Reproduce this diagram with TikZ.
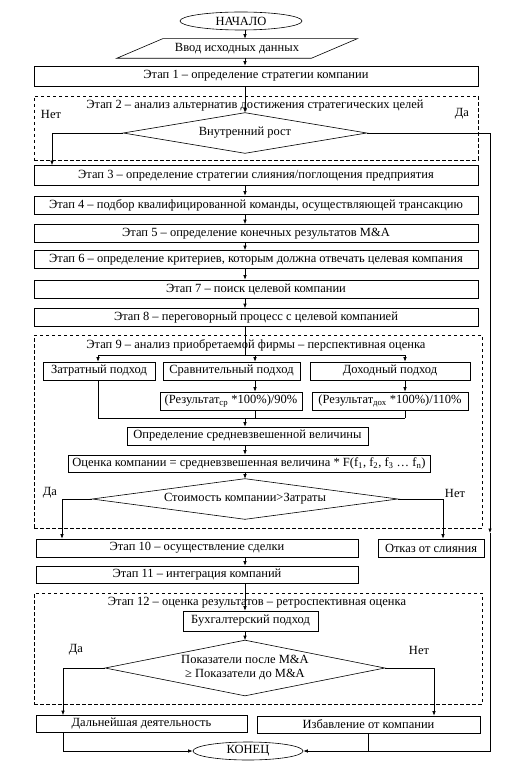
\documentclass[tikz,border=0pt]{standalone}
\usepackage{fontspec}
\setmainfont{Liberation Serif}
\usetikzlibrary{shapes.geometric,arrows.meta}
\begin{document}
\begin{tikzpicture}[x=1pt,y=-1pt,
  every node/.style={font=\fontsize{12.5}{14}\selectfont},
  box/.style={draw, rectangle, inner sep=1pt, minimum height=18pt},
  frame/.style={draw, dash pattern=on 3.5pt off 2.5pt, inner sep=0pt},
  dia/.style={rectangle, inner sep=0pt},
  term/.style={draw, ellipse, inner sep=0pt},
  lbl/.style={inner sep=0pt},
  arr/.style={-{Latex[length=4.5pt,width=3.5pt]}},
  line width=0.6pt]
\useasboundingbox (0,0) rectangle (529,775);
\coordinate (sp) at (245,0);

% top
\node[term, minimum width=122pt, minimum height=18pt] (start) at (241,21) {НАЧАЛО};
\node[inner sep=0pt, minimum width=194pt, minimum height=19pt] (input) at (237,48.5) {Ввод исходных данных};
\draw ([xshift=-23pt]input.south west) -- ([xshift=-23pt]input.south east)
   -- ([xshift=23pt]input.north east) -- ([xshift=23pt]input.north west) -- cycle;
\node[box, minimum width=444pt, minimum height=20pt] (s1) at (256,76) {Этап 1 – определение стратегии компании};

% stage 2
\node[frame, minimum width=444pt, minimum height=64pt] (fr2) at (256,128) {};
\node[lbl] (t2) at (255,106) {Этап 2 – анализ альтернатив достижения стратегических целей};
\node[dia, minimum width=243pt, minimum height=40pt] (d1) at (245,133) {Внутренний рост};
\draw (d1.north) -- (d1.east) -- (d1.south) -- (d1.west) -- cycle;
\node[lbl] (no1) at (51,114) {Нет};
\node[lbl] (yes1) at (462,114) {Да};

% stages 3-8
\node[box, minimum width=444pt, minimum height=20pt] (s3) at (256,175.5) {Этап 3 – определение стратегии слияния/поглощения предприятия};
\node[box, minimum width=444pt] (s4) at (256,205) {Этап 4 – подбор квалифицированной команды, осуществляющей трансакцию};
\node[box, minimum width=444pt] (s5) at (256,233.5) {Этап 5 – определение конечных результатов M\&A};
\node[box, minimum width=444pt] (s6) at (256,259.5) {Этап 6 – определение критериев, которым должна отвечать целевая компания};
\node[box, minimum width=444pt] (s7) at (256,289) {Этап 7 – поиск целевой компании};
\node[box, minimum width=444pt] (s8) at (256,317.5) {Этап 8 – переговорный процесс с целевой компанией};

% stage 9
\node[frame, minimum width=448pt, minimum height=193pt] (fr9) at (258,431.5) {};
\node[lbl] (t9) at (256,345) {Этап 9 – анализ приобретаемой фирмы – перспективная оценка};
\node[box, minimum width=112pt] (zat) at (99,371) {Затратный подход};
\node[box, minimum width=137pt] (srv) at (231.5,371) {Сравнительный подход};
\node[box, minimum width=160pt] (doh) at (390,371) {Доходный подход};
\node[box, minimum width=142pt] (fm1) at (231,401) {(Результат\textsubscript{ср} *100\%)/90\%};
\node[box, minimum width=156pt] (fm2) at (390,401) {(Результат\textsubscript{дох} *100\%)/110\%};
\node[box, minimum width=241pt] (avg) at (247.5,436) {Определение средневзвешенной величины};
\node[box, minimum width=362pt, minimum height=17pt] (est) at (249,463.5) {Оценка компании = средневзвешенная величина * F(f\textsubscript{1}, f\textsubscript{2}, f\textsubscript{3} … f\textsubscript{n})};
\node[dia, minimum width=305pt, minimum height=40pt] (d2) at (245,499) {Стоимость компании>Затраты};
\draw (d2.north) -- (d2.east) -- (d2.south) -- (d2.west) -- cycle;
\node[lbl] (yes2) at (50,493) {Да};
\node[lbl] (no2) at (455,493) {Нет};

% stages 10-11
\node[box, minimum width=322pt] (s10) at (197,548) {Этап 10 – осуществление сделки};
\node[box, minimum width=106pt] (ref) at (431,548) {Отказ от слияния};
\node[box, minimum width=322pt, minimum height=17pt] (s11) at (197,574.5) {Этап 11 – интеграция компаний};

% stage 12
\node[frame, minimum width=448pt, minimum height=111pt] (fr12) at (258,648.5) {};
\node[lbl] (t12) at (257,603) {Этап 12 – оценка результатов – ретроспективная оценка};
\node[box, minimum width=135pt, minimum height=20pt] (bux) at (250.5,621) {Бухгалтерский подход};
\node[dia, minimum width=279pt, minimum height=55pt, align=center, font=\fontsize{12.5}{14}\selectfont] (d3) at (245,668) {Показатели после M\&A\\≥ Показатели до M\&A};
\draw (d3.north) -- (d3.east) -- (d3.south) -- (d3.west) -- cycle;
\node[lbl] (yes3) at (76,650) {Да};
\node[lbl] (no3) at (419,650) {Нет};

% bottom
\node[box, minimum width=211pt, minimum height=17pt] (cont) at (141.5,724) {Дальнейшая деятельность};
\node[box, minimum width=223pt, minimum height=17pt] (rid) at (368.5,724.5) {Избавление от компании};
\node[term, minimum width=110pt, minimum height=18pt] (fin) at (248,751) {КОНЕЦ};

% connectors on the spine
\draw[arr] (start.south -| sp) -- (input.north -| sp);
\draw[arr] (input.south -| sp) -- (s1.north -| sp);
\draw[arr] (s1.south -| sp) -- (d1.north);
\draw[arr] (s3.south -| sp) -- (s4.north -| sp);
\draw[arr] (s4.south -| sp) -- (s5.north -| sp);
\draw[arr] (s5.south -| sp) -- (s6.north -| sp);
\draw[arr] (s6.south -| sp) -- (s7.north -| sp);
\draw[arr] (s7.south -| sp) -- (s8.north -| sp);

% decision 1
\coordinate (n1) at (52,133);
\coordinate (rm) at (490,533);
\draw[arr] (d1.west) -- (n1) -- (s3.north -| n1);
\draw[arr] (d1.east) -- (d1.east -| rm) -- (rm);
\draw[arr] (rm) -- (rm |- fin) -- (fin.east);

% stage 9 distribution
\coordinate (dist) at (245,355);
\coordinate (xa) at (98,0);
\coordinate (xb) at (255,0);
\coordinate (xc) at (405,0);
\draw (s8.south -| sp) -- (dist);
\draw (xa |- dist) -- (xc |- dist);
\draw[arr] (xa |- dist) -- (zat.north -| xa);
\draw[arr] (xb |- dist) -- (srv.north -| xb);
\draw[arr] (xc |- dist) -- (doh.north -| xc);
\draw[arr] (srv.south -| xb) -- (fm1.north -| xb);
\draw[arr] (doh.south -| xc) -- (fm2.north -| xc);
\coordinate (col) at (245,418);
\draw (zat.south -| xa) -- (xa |- col) -- (xc |- col);
\draw (fm1.south -| xb) -- (xb |- col);
\draw (fm2.south -| xc) -- (xc |- col);
\draw[arr] (col) -- (avg.north -| col);
\draw[arr] (avg.south -| sp) -- (est.north -| sp);
\draw[arr] (est.south -| sp) -- (d2.north);

% decision 2
\coordinate (ya) at (62,0);
\coordinate (yb) at (443,0);
\draw[arr] (d2.west) -- (d2.west -| ya) -- (s10.north -| ya);
\draw[arr] (d2.east) -- (d2.east -| yb) -- (ref.north -| yb);
\draw[arr] (s10.south -| sp) -- (s11.north -| sp);
\draw[arr] (s11.south -| sp) -- (bux.north -| sp);
\draw[arr] (bux.south -| sp) -- (d3.north);

% decision 3
\coordinate (za) at (63,0);
\coordinate (zb) at (434,0);
\draw[arr] (d3.west) -- (d3.west -| za) -- (cont.north -| za);
\draw[arr] (d3.east) -- (d3.east -| zb) -- (rid.north -| zb);
\draw[arr] (cont.south -| za) -- (za |- fin) -- (fin.west);
\draw (rid.south) -- (rid.south |- fin);
\end{tikzpicture}
\end{document}
